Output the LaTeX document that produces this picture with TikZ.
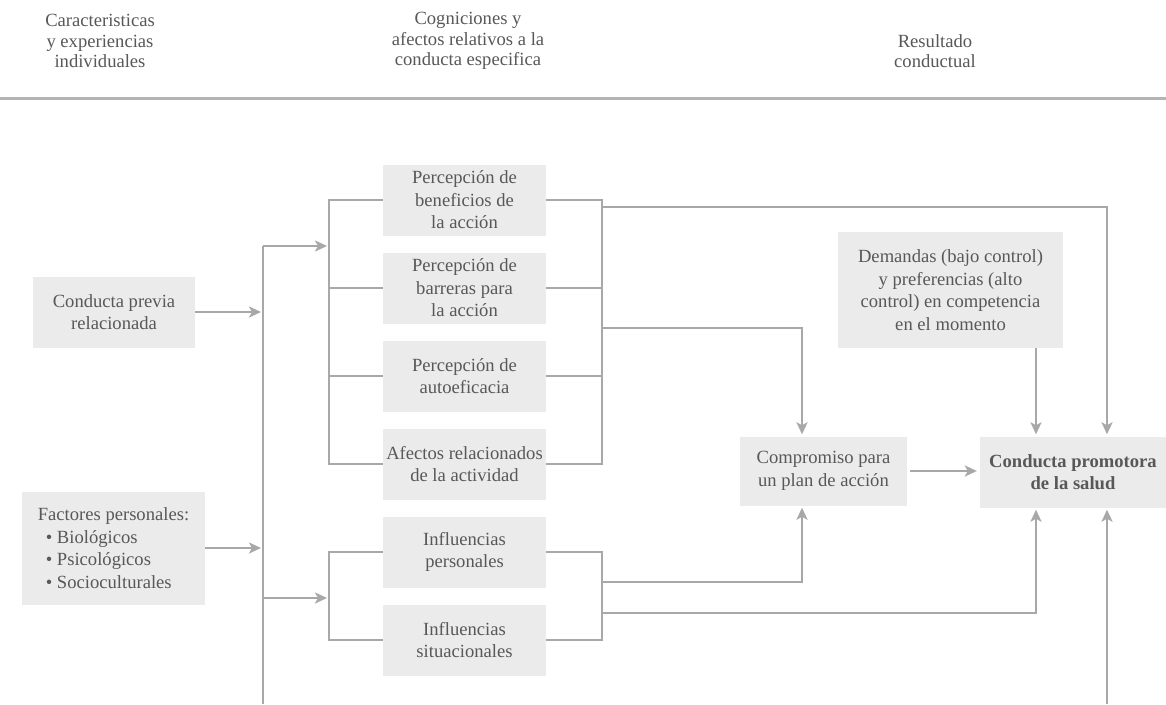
\documentclass[tikz,border=0pt]{standalone}
\usepackage{fontspec}
\setmainfont{Liberation Serif}
\usetikzlibrary{arrows.meta,calc}
\definecolor{linegray}{HTML}{A8A8A8}
\definecolor{rulegray}{HTML}{B4B4B4}
\definecolor{boxgray}{HTML}{EBEBEB}
\definecolor{txtgray}{HTML}{585858}
\begin{document}
\begin{tikzpicture}[x=1pt,y=-1pt,
  box/.style={fill=boxgray, draw=none, text=txtgray, align=center,
    font=\fontsize{18.6}{22.5}\selectfont, minimum width=163pt, minimum height=71pt, inner sep=1pt},
  head/.style={text=txtgray, align=center, font=\fontsize{18.6}{20.5}\selectfont},
  ln/.style={draw=linegray, line width=2.3pt},
  arr/.style={ln, -{Stealth[length=12pt,width=11pt,inset=3pt]}},
]
\fill[white] (0,0) rectangle (1166,704);
\useasboundingbox (0,0) rectangle (1166,704);

% headers
\node[head] (h1) at (100,41) {Caracteristicas\\y experiencias\\individuales};
\node[head] (h2) at (468,41) {Cogniciones y\\afectos relativos a la\\conducta especifica};
\node[head] (h3) at (935,51) {Resultado\\conductual};
\draw[draw=rulegray, line width=3pt] (0,98) -- (1166,98);

% boxes
\node[box, minimum width=162pt] (cprev) at (114,312) {Conducta previa\\relacionada};
\node[box, align=left, minimum width=183pt, minimum height=113pt] (fact) at (113.5,548)
  {Factores personales:\\\hspace{8pt}• Biológicos\\\hspace{8pt}• Psicológicos\\\hspace{8pt}• Socioculturales};
\node[box] (b1) at (464.5,200) {Percepción de\\beneficios de\\la acción};
\node[box] (b2) at (464.5,288) {Percepción de\\barreras para\\la acción};
\node[box] (b3) at (464.5,376) {Percepción de\\autoeficacia};
\node[box] (b4) at (464.5,464) {Afectos relacionados\\de la actividad};
\node[box] (b5) at (464.5,552) {Influencias\\personales};
\node[box] (b6) at (464.5,640) {Influencias\\situacionales};
\node[box, minimum width=167pt, minimum height=69pt] (comp) at (823.5,471) {Compromiso para\\un plan de acción};
\node[box, minimum width=186pt] (cps) at (1073,472) {\bfseries Conducta promotora\\\bfseries de la salud};
\node[box, minimum width=225pt, minimum height=116pt] (dem) at (950.5,290)
  {Demandas (bajo control)\\y preferencias (alto\\control) en competencia\\en el momento};

% helper coordinates
\coordinate (vtop) at (263,246);
\coordinate (vbot) at (263,704);
\coordinate (L) at (329,0);
\coordinate (R) at (602,0);
\coordinate (X1) at (1107,0);
\coordinate (X2) at (802,0);
\coordinate (X3) at (1036,0);
\coordinate (P1) at (602,207);
\coordinate (P2) at (602,328);
\coordinate (P3) at (602,582);
\coordinate (P4) at (602,613);
\coordinate (M1) at (263,598);
\coordinate (B) at (1107,704);

% left trunk
\draw[ln] (vtop) -- (vbot);
\draw[arr, shorten >=2pt] (cprev.east) -- (cprev.east -| vtop);
\draw[arr, shorten >=2pt] (fact.east) -- (fact.east -| vtop);
\draw[arr] (vtop) -- ($(vtop -| L)+(-2,0)$);
\draw[arr] (M1) -- ($(M1 -| L)+(-2,0)$);

% brackets
\draw[ln] (b1.west) -- (b1.west -| L) |- (b4.west);
\draw[ln] (b2.west) -- (b2.west -| L);
\draw[ln] (b3.west) -- (b3.west -| L);
\draw[ln] (b1.east) -- (b1.east -| R) |- (b4.east);
\draw[ln] (b2.east) -- (b2.east -| R);
\draw[ln] (b3.east) -- (b3.east -| R);
\draw[ln] (b5.west) -- (b5.west -| L) |- (b6.west);
\draw[ln] (b5.east) -- (b5.east -| R) |- (b6.east);

% outputs
\draw[arr, shorten >=2pt] (P1) -| (cps.north -| X1);
\draw[arr, shorten >=2pt] (P2) -| (comp.north -| X2);
\draw[arr, shorten >=2pt] (P3) -| (comp.south -| X2);
\draw[arr, shorten >=2pt] (P4) -| (cps.south -| X3);
\draw[arr, shorten >=2pt] (dem.south -| X3) -- (cps.north -| X3);
\draw[arr, shorten <=3pt, shorten >=3pt] (comp.east) -- (comp.east -| cps.west);
\draw[arr, shorten >=2pt] (B) -- (cps.south -| X1);
\end{tikzpicture}
\end{document}
